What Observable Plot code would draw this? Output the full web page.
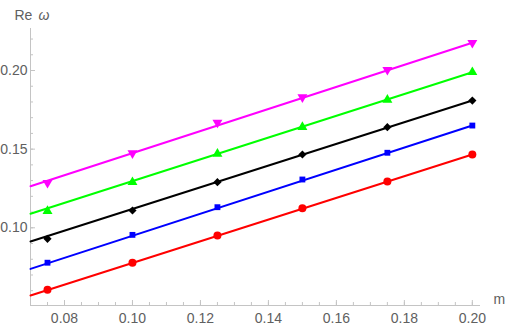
<!DOCTYPE html>
<html>
<head>
<meta charset="utf-8">
<script src="https://cdn.jsdelivr.net/npm/d3@7"></script>
<script src="https://cdn.jsdelivr.net/npm/@observablehq/plot@0.6"></script>
<style>
  html, body { margin: 0; padding: 0; background: #fff; }
</style>
</head>
<body>
<div id="chart"></div>
<script>
// ---- data ----
const mValues = [0.075, 0.1, 0.125, 0.15, 0.175, 0.2];
const redPts     = [0.0606, 0.0778, 0.0951, 0.1125, 0.1294, 0.1466];
const bluePts    = [0.0778, 0.0955, 0.1131, 0.1307, 0.1477, 0.1650];
const blackPts   = [0.0930, 0.1110, 0.1290, 0.1466, 0.1640, 0.1809];
const greenPts   = [0.1106, 0.1290, 0.1470, 0.1640, 0.1814, 0.1989];
const magentaPts = [0.1286, 0.1474, 0.1669, 0.1830, 0.2004, 0.2176];

// fitted straight lines: endpoints at m = 0.07 and m = 0.20
const lineM = [0.07, 0.20];
const redLine     = [0.0570, 0.1466];
const blueLine    = [0.0739, 0.1650];
const blackLine   = [0.0913, 0.1809];
const greenLine   = [0.1089, 0.1989];
const magentaLine = [0.1264, 0.2176];

// axes
const xDomain = [0.07, 0.2024];
const yDomain = [0.0506, 0.2267];
const xTickLabels = [0.08, 0.10, 0.12, 0.14, 0.16, 0.18, 0.20];
const xMinorTicks = d3.range(0, 27).map(i => 0.07 + i * 0.005).filter(v => v <= 0.2024);
const yTickLabels = [0.10, 0.15, 0.20];
const yMinorTicks = d3.range(6, 23).map(i => i / 100);
const xLabel = "m";
const yLabelA = "Re";
const yLabelB = "ω";

// ---- rendering ----
const W = 505, H = 331;
const mL = 30, mR = 25, mT = 28, mB = 26;
const innerW = W - mL - mR, innerH = H - mT - mB;
const axisColor = "#c4c4c4";
const textColor = "#606060";
const font = "Liberation Sans, Arial, Helvetica, sans-serif";

const sqrt3 = Math.sqrt(3);
const triangleDown = {
  draw(ctx, size) {
    const y = -Math.sqrt(size / (sqrt3 * 3));
    ctx.moveTo(0, -y * 2);
    ctx.lineTo(-sqrt3 * y, y);
    ctx.lineTo(sqrt3 * y, y);
    ctx.closePath();
  }
};

const series = [
  {pts: redPts, line: redLine, color: "#ff0000", symbol: "circle", r: 4},
  {pts: bluePts, line: blueLine, color: "#0000ff", symbol: "square", r: 3.3},
  {pts: blackPts, line: blackLine, color: "#000000", symbol: "diamond2", r: 3.7},
  {pts: greenPts, line: greenLine, color: "#00ff00", symbol: "triangle", r: 3.7},
  {pts: magentaPts, line: magentaLine, color: "#ff00ff", symbol: triangleDown, r: 3.7}
];

const lineMarks = series.map(s =>
  Plot.line(lineM.map((m, i) => ({m, v: s.line[i]})), {x: "m", y: "v", stroke: s.color, strokeWidth: 2})
);
const dotMarks = series.map(s =>
  Plot.dot(mValues.map((m, i) => ({m, v: s.pts[i]})), {x: "m", y: "v", fill: s.color, stroke: "none", symbol: s.symbol, r: s.r})
);

const chart = Plot.plot({
  width: W, height: H,
  marginLeft: mL, marginRight: mR, marginTop: mT, marginBottom: mB,
  x: {domain: xDomain},
  y: {domain: yDomain},
  style: {fontFamily: font, fontSize: "14px", color: textColor, background: "#fff"},
  marks: [
    // axis lines
    Plot.ruleY([yDomain[0]], {stroke: axisColor, strokeWidth: 1}),
    Plot.ruleX([xDomain[0]], {stroke: axisColor, strokeWidth: 1}),
    // ticks (pointing inward)
    Plot.tickX(xMinorTicks, {x: d => d, stroke: axisColor, insetTop: innerH - 3}),
    Plot.tickX(xTickLabels, {x: d => d, stroke: axisColor, insetTop: innerH - 5}),
    Plot.tickY(yMinorTicks, {y: d => d, stroke: axisColor, insetRight: innerW - 3}),
    Plot.tickY(yTickLabels, {y: d => d, stroke: axisColor, insetRight: innerW - 5}),
    // tick labels
    Plot.axisX({ticks: xTickLabels, tickSize: 0, tickPadding: 8, tickFormat: d3.format(".2f"), label: null, fontSize: 14, fill: textColor}),
    Plot.axisY({ticks: yTickLabels, tickSize: 0, tickPadding: 3, tickFormat: d3.format(".2f"), label: null, fontSize: 14, fill: textColor}),
    // axis titles
    Plot.text([xLabel], {text: d => d, frameAnchor: "bottom-right", textAnchor: "start", dx: 13, dy: -2, fontSize: 14, fill: textColor}),
    Plot.text([yLabelA], {text: d => d, frameAnchor: "top-left", textAnchor: "start", dx: -16, dy: -18, fontSize: 14, fill: textColor}),
    Plot.text([yLabelB], {text: d => d, frameAnchor: "top-left", textAnchor: "start", dx: 8, dy: -18, fontSize: 14, fontStyle: "italic", fill: textColor}),
    ...lineMarks,
    ...dotMarks
  ]
});
document.getElementById("chart").appendChild(chart);
</script>
</body>
</html>
